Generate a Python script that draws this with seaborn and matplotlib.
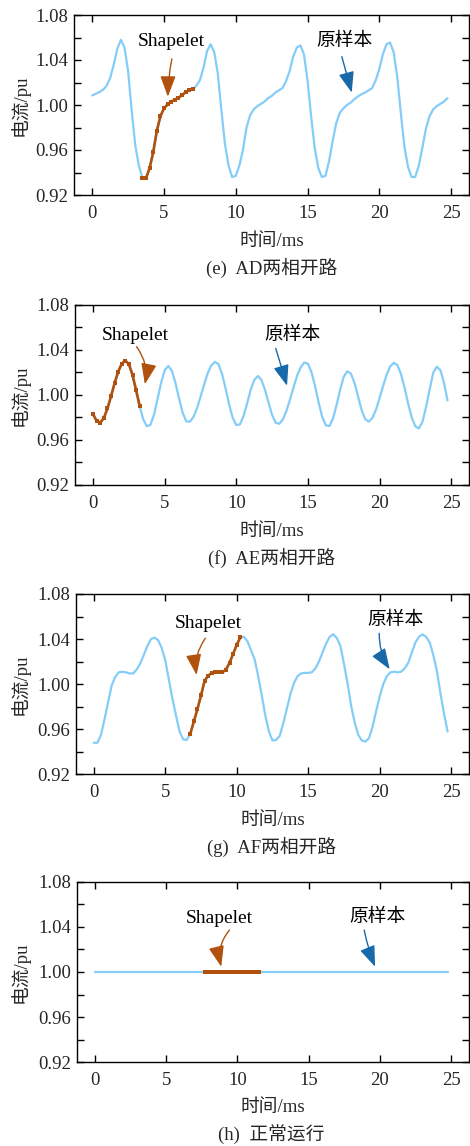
import numpy as np
import pandas as pd
import matplotlib
matplotlib.use("Agg")
import matplotlib.pyplot as plt
from matplotlib.ticker import MultipleLocator, FormatStrFormatter
import seaborn as sns

# ---------------- data ----------------
time_ms = np.round(np.arange(100) * 0.25, 2)

orig_e = [1.0085, 1.0100, 1.0115, 1.0135, 1.0170, 1.0240, 1.0360, 1.0500, 1.0580, 1.0510,
          1.0300, 0.9950, 0.9640, 0.9460, 0.9350, 0.9350, 0.9440, 0.9580, 0.9770, 0.9900,
          0.9970, 1.0005, 1.0030, 1.0045, 1.0065, 1.0085, 1.0115, 1.0130, 1.0140, 1.0170,
          1.0220, 1.0330, 1.0480, 1.0540, 1.0470, 1.0280, 0.9950, 0.9650, 0.9460, 0.9360,
          0.9370, 0.9460, 0.9600, 0.9800, 0.9910, 0.9960, 0.9990, 1.0010, 1.0030, 1.0060,
          1.0080, 1.0110, 1.0130, 1.0150, 1.0210, 1.0300, 1.0430, 1.0510, 1.0530, 1.0450,
          1.0220, 0.9900, 0.9620, 0.9440, 0.9360, 0.9370, 0.9500, 0.9680, 0.9840, 0.9930,
          0.9970, 1.0000, 1.0020, 1.0050, 1.0075, 1.0095, 1.0110, 1.0130, 1.0150, 1.0220,
          1.0320, 1.0450, 1.0540, 1.0555, 1.0470, 1.0250, 0.9930, 0.9630, 0.9450, 0.9360,
          0.9360, 0.9460, 0.9620, 0.9790, 0.9900, 0.9960, 0.9990, 1.0010, 1.0030, 1.0060]

orig_f = [0.9827, 0.9765, 0.9754, 0.9796, 0.9879, 0.9989, 1.0105, 1.0207, 1.0278, 1.0303,
          1.0271, 1.0175, 1.0040, 0.9899, 0.9781, 0.9722, 0.9734, 0.9825, 0.9965, 1.0110,
          1.0220, 1.0256, 1.0212, 1.0104, 0.9967, 0.9841, 0.9766, 0.9761, 0.9803, 0.9880,
          0.9984, 1.0092, 1.0192, 1.0261, 1.0293, 1.0273, 1.0186, 1.0056, 0.9913, 0.9794,
          0.9732, 0.9738, 0.9810, 0.9922, 1.0044, 1.0132, 1.0167, 1.0134, 1.0045, 0.9930,
          0.9821, 0.9752, 0.9743, 0.9782, 0.9858, 0.9960, 1.0070, 1.0172, 1.0246, 1.0287,
          1.0277, 1.0200, 1.0076, 0.9932, 0.9803, 0.9730, 0.9723, 0.9789, 0.9910, 1.0045,
          1.0161, 1.0209, 1.0188, 1.0107, 0.9986, 0.9865, 0.9784, 0.9763, 0.9795, 0.9868,
          0.9969, 1.0078, 1.0180, 1.0253, 1.0284, 1.0264, 1.0184, 1.0063, 0.9922, 0.9799,
          0.9721, 0.9702, 0.9761, 0.9892, 1.0048, 1.0195, 1.0250, 1.0220, 1.0110, 0.9950]

orig_g = [0.9480, 0.9480, 0.9550, 0.9690, 0.9840, 0.9990, 1.0065, 1.0105, 1.0110, 1.0105,
          1.0095, 1.0095, 1.0130, 1.0185, 1.0260, 1.0340, 1.0400, 1.0413, 1.0390, 1.0320,
          1.0210, 1.0040, 0.9870, 0.9720, 0.9580, 0.9510, 0.9505, 0.9560, 0.9670, 0.9780,
          0.9900, 1.0030, 1.0075, 1.0100, 1.0110, 1.0110, 1.0105, 1.0130, 1.0190, 1.0270,
          1.0350, 1.0415, 1.0420, 1.0380, 1.0300, 1.0220, 1.0070, 0.9900, 0.9720, 0.9580,
          0.9500, 0.9505, 0.9540, 0.9650, 0.9780, 0.9910, 1.0010, 1.0070, 1.0095, 1.0100,
          1.0100, 1.0105, 1.0140, 1.0200, 1.0280, 1.0360, 1.0420, 1.0442, 1.0410, 1.0340,
          1.0180, 1.0010, 0.9810, 0.9660, 0.9550, 0.9500, 0.9490, 0.9520, 0.9620, 0.9760,
          0.9890, 1.0000, 1.0070, 1.0105, 1.0110, 1.0105, 1.0110, 1.0140, 1.0190, 1.0280,
          1.0370, 1.0420, 1.0442, 1.0420, 1.0370, 1.0260, 1.0120, 0.9920, 0.9740, 0.9580]

orig_h = [1.000, 1.000, 1.000, 1.000, 1.000, 1.000, 1.000, 1.000, 1.000, 1.000,
          1.000, 1.000, 1.000, 1.000, 1.000, 1.000, 1.000, 1.000, 1.000, 1.000,
          1.000, 1.000, 1.000, 1.000, 1.000, 1.000, 1.000, 1.000, 1.000, 1.000,
          1.000, 1.000, 1.000, 1.000, 1.000, 1.000, 1.000, 1.000, 1.000, 1.000,
          1.000, 1.000, 1.000, 1.000, 1.000, 1.000, 1.000, 1.000, 1.000, 1.000,
          1.000, 1.000, 1.000, 1.000, 1.000, 1.000, 1.000, 1.000, 1.000, 1.000,
          1.000, 1.000, 1.000, 1.000, 1.000, 1.000, 1.000, 1.000, 1.000, 1.000,
          1.000, 1.000, 1.000, 1.000, 1.000, 1.000, 1.000, 1.000, 1.000, 1.000,
          1.000, 1.000, 1.000, 1.000, 1.000, 1.000, 1.000, 1.000, 1.000, 1.000,
          1.000, 1.000, 1.000, 1.000, 1.000, 1.000, 1.000, 1.000, 1.000, 1.000]

# shapelet = sub-sequence of the original sample (first, last sample index)
shapelet_e = (14, 28)
shapelet_f = (0, 13)
shapelet_g = (27, 41)
shapelet_h = (31, 46)

captions = ["(e)  AD两相开路", "(f)  AE两相开路", "(g)  AF两相开路", "(h)  正常运行"]
x_ticks = [0, 5, 10, 15, 20, 25]
y_ticks = [0.92, 0.96, 1.00, 1.04, 1.08]
x_label = "时间/ms"
y_label = "电流/pu"
shapelet_text = "Shapelet"
orig_text = "原样本"

# ---------------- style ----------------
BLUE = "#84CDF8"
BROWN = "#B0520E"
ARROW_BLUE = "#1769AA"

sns.set_style("ticks")
FAM = ["Liberation Serif", "Noto Sans CJK SC", "DejaVu Sans"]
plt.rcParams["font.family"] = FAM
plt.rcParams["axes.linewidth"] = 1.0

W, H = 470, 1146
fig = plt.figure(figsize=(W / 100, H / 100), dpi=100)

# layout in pixels: (left, top, bottom)
layouts = [(74, 15, 195), (75, 304.7, 485), (75.7, 594, 774.3), (76.7, 881.7, 1062.3)]
right_px = 469
xlabel_y = [241.5, 531.5, 820.5, 1107.5]
caption_y = [268, 557.5, 847, 1134.5]

# annotation specs: (text xy, arrow tail, arrow tip, rad) in data coords
ann_shape = [((5.54, 1.056), (5.55, 1.041), (5.27, 1.0074), 0.05),
             ((2.91, 1.0531), (3.03, 1.0427), (3.61, 1.0094), -0.22),
             ((8.03, 1.0540), (7.80, 1.0407), (7.19, 1.0081), 0.2),
             ((8.75, 1.0476), (9.45, 1.0372), (8.87, 1.0047), 0.25)]
ann_orig = [((17.6, 1.0563), (17.39, 1.043), (18.08, 1.011), 0.0),
            ((13.91, 1.0531), (12.75, 1.0413), (13.54, 1.0081), 0.0),
            ((21.07, 1.0569), (19.97, 1.0451), (20.70, 1.0132), 0.15),
            ((19.83, 1.0481), (18.90, 1.0372), (19.66, 1.0047), 0.05)]

series = [orig_e, orig_f, orig_g, orig_h]
shapes = [shapelet_e, shapelet_f, shapelet_g, shapelet_h]

ARROW = "-|>,head_length=0.75,head_width=0.28"

for i in range(4):
    lpx, tpx, bpx = layouts[i]
    ax = fig.add_axes([lpx / W, 1 - bpx / H, (right_px - lpx) / W, (bpx - tpx) / H])
    df = pd.DataFrame({"t": time_ms, "v": series[i]})
    sns.lineplot(data=df, x="t", y="v", ax=ax, color=BLUE, lw=1.6, zorder=2)
    s0, s1 = shapes[i]
    sub = df.iloc[s0:s1 + 1]
    sns.lineplot(data=sub, x="t", y="v", ax=ax, color=BROWN, lw=1.9 if i < 3 else 2.8,
                 marker="s", markersize=3.4, markeredgewidth=0, zorder=3)

    ax.set_xlim(-1.27, 26.25)
    ax.set_ylim(0.92, 1.08)
    ax.set_xticks(x_ticks)
    ax.set_yticks(y_ticks)
    ax.yaxis.set_minor_locator(MultipleLocator(0.02))
    ax.yaxis.set_major_formatter(FormatStrFormatter("%.2f"))
    ax.tick_params(which="both", direction="in", top=True, right=True,
                   length=5, width=1.0, color="black", labelsize=13.5)
    ax.tick_params(axis="x", which="minor", top=False, bottom=False)
    ax.tick_params(axis="x", pad=7)
    ax.tick_params(axis="y", pad=4)
    for sp in ax.spines.values():
        sp.set_color("black")
        sp.set_linewidth(1.0)

    ax.set_xlabel(x_label, fontsize=13.5, va="center")
    ax.xaxis.set_label_coords(0.5, -(xlabel_y[i] - bpx) / (bpx - tpx))
    ax.set_ylabel(y_label, fontsize=13.5, va="center")
    ax.yaxis.set_label_coords(-(lpx - 20) / (right_px - lpx), 0.5)

    (tx, ty), tail, tip, rad = ann_shape[i]
    ax.text(tx, ty, shapelet_text, ha="center", va="center", fontsize=14, color="black")
    ax.annotate("", xy=tip, xytext=tail,
                arrowprops=dict(arrowstyle=ARROW, mutation_scale=17, lw=1.0, color=BROWN,
                                shrinkA=0, shrinkB=0,
                                connectionstyle=f"arc3,rad={rad}"))
    (tx, ty), tail, tip, rad = ann_orig[i]
    ax.text(tx, ty, orig_text, ha="center", va="center", fontsize=13.5, color="black")
    ax.annotate("", xy=tip, xytext=tail,
                arrowprops=dict(arrowstyle=ARROW, mutation_scale=17, lw=1.0, color=ARROW_BLUE,
                                shrinkA=0, shrinkB=0,
                                connectionstyle=f"arc3,rad={rad}"))

    fig.text(271.5 / W, 1 - caption_y[i] / H, captions[i], ha="center", va="center",
             fontsize=13.5)

fig.savefig("out.png", dpi=100)
